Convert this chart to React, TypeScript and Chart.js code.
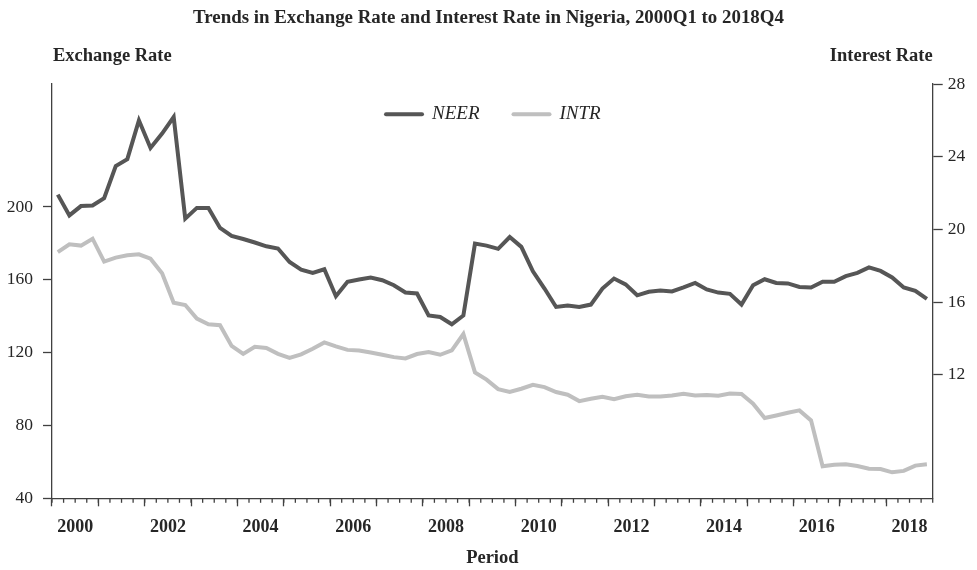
import React, { useEffect, useRef } from 'react';
import { Chart, registerables } from 'chart.js';

Chart.register(...registerables);

const TITLE = 'Trends in Exchange Rate and Interest Rate in Nigeria, 2000Q1 to 2018Q4';
const LEFT_AXIS_TITLE = 'Exchange Rate';
const RIGHT_AXIS_TITLE = 'Interest Rate';
const X_AXIS_TITLE = 'Period';

const YEARS: number[] = [
  2000, 2001, 2002, 2003, 2004, 2005, 2006, 2007, 2008, 2009,
  2010, 2011, 2012, 2013, 2014, 2015, 2016, 2017, 2018,
];
const QUARTERS: string[] = ['Q1', 'Q2', 'Q3', 'Q4'];
const CATEGORIES: string[] = YEARS.flatMap((y) => QUARTERS.map((q) => `${y}${q}`));

const NEER: number[] = [
  206.8, 195.4, 200.5, 200.8, 204.8, 222.5, 226.3, 247.6, 232.4, 240.3,
  249.4, 193.6, 199.5, 199.5, 188.5, 184.1, 182.4, 180.5, 178.4, 177.2,
  169.8, 165.6, 163.8, 165.8, 151.0, 158.9, 160.2, 161.3, 159.8, 157.0,
  153.0, 152.5, 140.4, 139.6, 135.6, 140.4, 179.9, 178.8, 177.0, 183.5,
  178.1, 164.7, 155.2, 145.1, 145.9, 145.1, 146.4, 155.2, 160.7, 157.5,
  151.5, 153.4, 154.1, 153.6, 155.8, 158.3, 154.7, 153.0, 152.3, 146.4,
  157.0, 160.3, 158.3, 158.0, 156.1, 155.8, 158.9, 158.9, 162.0, 163.8,
  166.8, 164.9, 161.3, 155.8, 153.9, 149.5,
];

const INTR: number[] = [
  18.75, 19.18, 19.11, 19.49, 18.23, 18.45, 18.58, 18.63, 18.39, 17.59,
  15.97, 15.84, 15.09, 14.78, 14.73, 13.59, 13.15, 13.54, 13.47, 13.15,
  12.93, 13.12, 13.43, 13.78, 13.56, 13.37, 13.34, 13.23, 13.10, 12.97,
  12.90, 13.14, 13.25, 13.10, 13.34, 14.24, 12.13, 11.73, 11.21, 11.05,
  11.23, 11.45, 11.32, 11.05, 10.90, 10.55, 10.68, 10.79, 10.66, 10.82,
  10.90, 10.81, 10.81, 10.86, 10.96, 10.86, 10.88, 10.85, 10.97, 10.94,
  10.41, 9.62, 9.76, 9.91, 10.04, 9.49, 6.96, 7.05, 7.07, 6.98,
  6.83, 6.81, 6.63, 6.71, 7.00, 7.07,
];

const LEFT_TICKS: number[] = [40, 80, 120, 160, 200];
const RIGHT_TICKS: number[] = [12, 16, 20, 24, 28];
const LEFT_MIN = 40;
const LEFT_MAX = 268;
const RIGHT_MIN = 5.2;
const RIGHT_MAX = 28.05;

const NEER_COLOR = '#565656';
const INTR_COLOR = '#bfbfbf';
const AXIS_COLOR = '#404040';
const TEXT_COLOR = '#262626';
const FONT_FAMILY = '"Liberation Serif", "Times New Roman", serif';

const decorPlugin = {
  id: 'decor',
  afterDraw(chart: any) {
    const { ctx, chartArea, scales } = chart;
    const xs = scales.x;
    ctx.save();

    // minor (quarterly) tick marks on the x axis
    ctx.strokeStyle = AXIS_COLOR;
    ctx.lineWidth = 1.3;
    for (let i = 0; i <= CATEGORIES.length; i++) {
      const px = xs.getPixelForValue(i - 0.5);
      ctx.beginPath();
      ctx.moveTo(px, xs.top);
      ctx.lineTo(px, xs.top + 4.5);
      ctx.stroke();
    }

    // axis captions above the plot
    ctx.fillStyle = TEXT_COLOR;
    ctx.font = `bold 18.5px ${FONT_FAMILY}`;
    ctx.textBaseline = 'middle';
    ctx.textAlign = 'left';
    ctx.fillText(LEFT_AXIS_TITLE, chartArea.left + 1, chartArea.top - 27);
    ctx.textAlign = 'right';
    ctx.fillText(RIGHT_AXIS_TITLE, chartArea.right, chartArea.top - 27);

    // legend inside the plot area, centered
    const datasets = chart.data.datasets;
    ctx.font = `italic 19px ${FONT_FAMILY}`;
    const lineLen = 36;
    const cap = 2;
    const gap = 8;
    const spacing = 32;
    const widths = datasets.map((d: any) => ctx.measureText(d.label).width);
    const itemWidths = widths.map((w: number) => lineLen + 2 * cap + gap + w);
    const total = itemWidths.reduce((a: number, b: number) => a + b, 0) + spacing * (datasets.length - 1);
    let x = (chartArea.left + chartArea.right) / 2 - total / 2;
    const y = chartArea.top + 31;
    datasets.forEach((d: any, i: number) => {
      ctx.strokeStyle = d.borderColor;
      ctx.lineWidth = d.borderWidth;
      ctx.lineCap = 'round';
      ctx.beginPath();
      ctx.moveTo(x + cap, y);
      ctx.lineTo(x + cap + lineLen, y);
      ctx.stroke();
      ctx.fillStyle = TEXT_COLOR;
      ctx.textAlign = 'left';
      ctx.textBaseline = 'middle';
      ctx.fillText(d.label, x + 2 * cap + lineLen + gap, y);
      x += itemWidths[i] + spacing;
    });

    ctx.restore();
  },
};

export default function App() {
  const canvasRef = useRef<HTMLCanvasElement | null>(null);

  useEffect(() => {
    if (!canvasRef.current) return;
    Chart.defaults.font.family = FONT_FAMILY;
    Chart.defaults.color = TEXT_COLOR;

    const chart = new Chart(canvasRef.current, {
      type: 'line',
      data: {
        labels: CATEGORIES,
        datasets: [
          {
            label: 'NEER',
            data: NEER,
            yAxisID: 'y',
            borderColor: NEER_COLOR,
            backgroundColor: NEER_COLOR,
            borderWidth: 4,
            pointRadius: 0,
            tension: 0,
          },
          {
            label: 'INTR',
            data: INTR,
            yAxisID: 'y1',
            borderColor: INTR_COLOR,
            backgroundColor: INTR_COLOR,
            borderWidth: 4,
            pointRadius: 0,
            tension: 0,
          },
        ],
      },
      options: {
        animation: false,
        responsive: true,
        maintainAspectRatio: false,
        layout: { padding: 0 },
        plugins: {
          title: {
            display: true,
            text: TITLE,
            color: TEXT_COLOR,
            font: { size: 18.9, weight: 'bold' },
            padding: { top: 7, bottom: 53.5 },
          },
          legend: { display: false },
          tooltip: { enabled: false },
        },
        scales: {
          x: {
            type: 'category',
            offset: true,
            grid: {
              display: true,
              offset: true,
              drawOnChartArea: false,
              tickLength: 8,
              tickWidth: 1.3,
              tickColor: (ctx: any) =>
                ctx.index !== undefined && ctx.index % 4 === 0 ? AXIS_COLOR : 'rgba(0,0,0,0)',
            },
            border: { display: true, color: AXIS_COLOR, width: 1.3 },
            ticks: {
              autoSkip: false,
              maxRotation: 0,
              minRotation: 0,
              padding: 10,
              labelOffset: -5.8,
              color: TEXT_COLOR,
              font: { size: 18, weight: 'bold' },
              callback: (_v: any, index: number) =>
                index % 8 === 2 ? String(YEARS[Math.floor(index / 4)]) : '',
            },
            title: {
              display: true,
              text: X_AXIS_TITLE,
              color: TEXT_COLOR,
              font: { size: 18.5, weight: 'bold' },
              padding: { top: 0, bottom: 1 },
            },
            afterFit: (scale: any) => {
              scale.height = 71.7;
            },
          },
          y: {
            type: 'linear',
            position: 'left',
            min: LEFT_MIN,
            max: LEFT_MAX,
            afterBuildTicks: (scale: any) => {
              scale.ticks = LEFT_TICKS.map((v) => ({ value: v }));
            },
            grid: {
              display: true,
              drawOnChartArea: false,
              tickLength: 9,
              tickWidth: 1.3,
              tickColor: AXIS_COLOR,
            },
            border: { display: true, color: AXIS_COLOR, width: 1.3 },
            ticks: {
              padding: 10,
              color: TEXT_COLOR,
              font: { size: 17.5 },
            },
            afterFit: (scale: any) => {
              scale.width = 52;
            },
          },
          y1: {
            type: 'linear',
            position: 'right',
            min: RIGHT_MIN,
            max: RIGHT_MAX,
            afterBuildTicks: (scale: any) => {
              scale.ticks = RIGHT_TICKS.map((v) => ({ value: v }));
            },
            grid: {
              display: true,
              drawOnChartArea: false,
              tickLength: 10,
              tickWidth: 1.3,
              tickColor: AXIS_COLOR,
            },
            border: { display: true, color: AXIS_COLOR, width: 1.3 },
            ticks: {
              padding: 5,
              color: TEXT_COLOR,
              font: { size: 17.5 },
            },
            afterFit: (scale: any) => {
              scale.width = 44.3;
            },
          },
        },
      } as any,
      plugins: [decorPlugin],
    });

    return () => {
      chart.destroy();
    };
  }, []);

  return (
    <div
      style={{
        position: 'fixed',
        left: 0,
        top: 0,
        width: 977,
        height: 570,
        background: '#ffffff',
      }}
    >
      <canvas ref={canvasRef} />
    </div>
  );
}
